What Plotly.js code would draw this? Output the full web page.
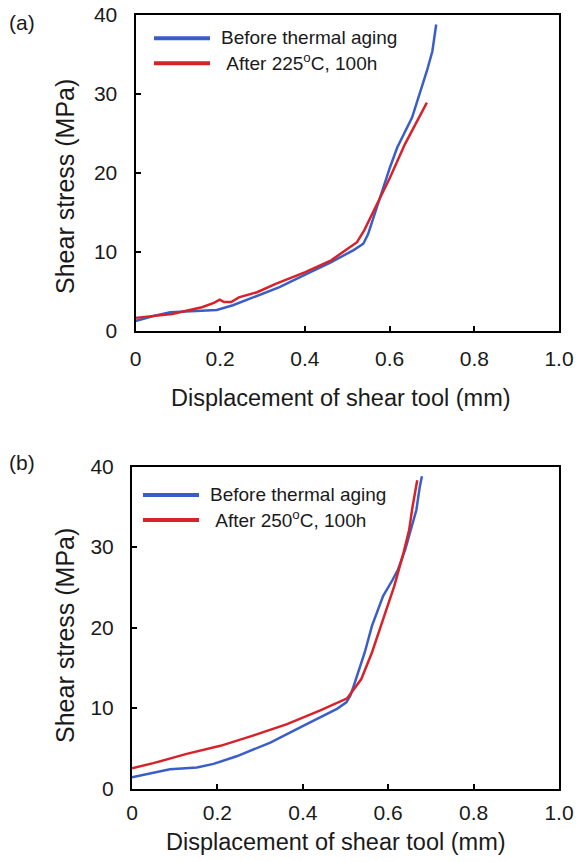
<!DOCTYPE html>
<html>
<head>
<meta charset="utf-8">
<script src="https://cdn.plot.ly/plotly-3.0.1.min.js"></script>
<style>html,body{margin:0;padding:0;background:#fff;}#chart{width:578px;height:862px;}</style>
</head>
<body>
<div id="chart"></div>
<script>
// ---- data ----
// (a) 225 °C aging
var xA_before = [0, 0.04, 0.082, 0.14, 0.192, 0.23, 0.279, 0.34, 0.397, 0.46, 0.515, 0.538, 0.549, 0.575, 0.601, 0.618, 0.653, 0.688, 0.701, 0.71];
var yA_before = [1.2, 1.8, 2.3, 2.5, 2.6, 3.2, 4.2, 5.5, 7.0, 8.6, 10.2, 11.0, 12.2, 16.5, 20.7, 23.2, 27.0, 32.9, 35.4, 38.8];
var xA_after = [0, 0.04, 0.087, 0.12, 0.157, 0.185, 0.199, 0.209, 0.226, 0.244, 0.287, 0.331, 0.401, 0.462, 0.523, 0.54, 0.566, 0.601, 0.636, 0.688];
var yA_after = [1.6, 1.8, 2.1, 2.5, 2.95, 3.5, 3.9, 3.6, 3.6, 4.2, 4.85, 5.9, 7.4, 8.9, 11.2, 12.7, 15.6, 19.4, 23.6, 28.9];
// (b) 250 °C aging
var xB_before = [0, 0.05, 0.089, 0.152, 0.191, 0.245, 0.324, 0.402, 0.48, 0.502, 0.511, 0.519, 0.545, 0.562, 0.588, 0.61, 0.623, 0.64, 0.653, 0.666, 0.674, 0.679];
var yB_before = [1.4, 1.97, 2.4, 2.6, 3.06, 4.0, 5.7, 7.8, 9.9, 10.7, 11.5, 12.7, 16.9, 20.2, 23.9, 25.9, 27.2, 29.7, 32.1, 34.6, 37.5, 38.8];
var xB_after = [0, 0.05, 0.128, 0.207, 0.285, 0.363, 0.441, 0.504, 0.537, 0.562, 0.588, 0.614, 0.636, 0.649, 0.657, 0.666, 0.668];
var yB_after = [2.5, 3.15, 4.3, 5.3, 6.6, 8.0, 9.7, 11.2, 13.6, 16.9, 21.0, 25.1, 29.3, 32.1, 35.0, 38.1, 38.3];

var xTickVals = [0, 0.2, 0.4, 0.6, 0.8, 1.0];
var xTickText = ['0', '0.2', '0.4', '0.6', '0.8', '1.0'];
var yTickVals = [0, 10, 20, 30, 40];
var yTickText = ['0', '10', '20', '30', '40'];

var nameBefore = 'Before thermal aging';
var nameAfterA = ' After 225<sup>o</sup>C, 100h';
var nameAfterB = ' After 250<sup>o</sup>C, 100h';
var xTitle = 'Displacement of shear tool (mm)';
var yTitle = 'Shear stress (MPa)';

var BLUE = '#3a5ec8';
var RED = '#d8222a';
var FONT = 'Arial, "Liberation Sans", sans-serif';
var TXT = '#1a1a1a';

var W = 578, H = 862;
function px(x) { return x / W; }
function py(y) { return 1 - y / H; }

var traces = [
  {x: xA_before, y: yA_before, xaxis: 'x', yaxis: 'y', mode: 'lines', name: nameBefore, line: {color: BLUE, width: 2.5}, showlegend: false},
  {x: xA_after, y: yA_after, xaxis: 'x', yaxis: 'y', mode: 'lines', name: nameAfterA, line: {color: RED, width: 2.5}, showlegend: false},
  {x: xB_before, y: yB_before, xaxis: 'x2', yaxis: 'y2', mode: 'lines', name: nameBefore, line: {color: BLUE, width: 2.5}, showlegend: false},
  {x: xB_after, y: yB_after, xaxis: 'x2', yaxis: 'y2', mode: 'lines', name: nameAfterB, line: {color: RED, width: 2.5}, showlegend: false}
];

function xax(domain, anchor, standoff) {
  return {domain: domain, anchor: anchor, range: [0, 1], tickmode: 'array', tickvals: xTickVals, ticktext: xTickText,
    showline: true, linecolor: '#000', linewidth: 2, mirror: true, ticks: 'inside', ticklen: 5, tickwidth: 2, tickcolor: '#000',
    showgrid: false, zeroline: false, ticklabelstandoff: standoff, tickfont: {family: FONT, size: 21, color: TXT}, fixedrange: true};
}
function yax(domain, anchor) {
  return {domain: domain, anchor: anchor, range: [0, 40], tickmode: 'array', tickvals: yTickVals, ticktext: yTickText,
    showline: true, linecolor: '#000', linewidth: 2, mirror: true, ticks: 'inside', ticklen: 5, tickwidth: 2, tickcolor: '#000',
    showgrid: false, zeroline: false, ticklabelstandoff: 12, tickfont: {family: FONT, size: 21, color: TXT}, fixedrange: true};
}

var layout = {
  width: W, height: H,
  margin: {l: 0, r: 0, t: 0, b: 0},
  paper_bgcolor: '#fff', plot_bgcolor: '#fff',
  showlegend: false,
  xaxis: xax([px(135.5), px(559)], 'y', 8),
  yaxis: yax([py(330.5), py(15)], 'x'),
  xaxis2: xax([px(132), px(559)], 'y2', 4),
  yaxis2: yax([py(788.5), py(466.5)], 'x2'),
  shapes: [
    {type: 'line', xref: 'paper', yref: 'paper', x0: px(154), x1: px(210), y0: py(38.3), y1: py(38.3), line: {color: BLUE, width: 4}},
    {type: 'line', xref: 'paper', yref: 'paper', x0: px(154), x1: px(210), y0: py(63.3), y1: py(63.3), line: {color: RED, width: 4}},
    {type: 'line', xref: 'paper', yref: 'paper', x0: px(143), x1: px(199), y0: py(495), y1: py(495), line: {color: BLUE, width: 4}},
    {type: 'line', xref: 'paper', yref: 'paper', x0: px(143), x1: px(199), y0: py(520), y1: py(520), line: {color: RED, width: 4}}
  ],
  annotations: [
    {text: '(a)', xref: 'paper', yref: 'paper', x: px(7), y: py(22.5), xanchor: 'left', yanchor: 'middle', showarrow: false, font: {family: FONT, size: 21, color: TXT}},
    {text: '(b)', xref: 'paper', yref: 'paper', x: px(7), y: py(462.5), xanchor: 'left', yanchor: 'middle', showarrow: false, font: {family: FONT, size: 21, color: TXT}},
    {text: nameBefore, xref: 'paper', yref: 'paper', x: px(219), y: py(37), xanchor: 'left', yanchor: 'middle', showarrow: false, font: {family: FONT, size: 19, color: TXT}},
    {text: nameAfterA, xref: 'paper', yref: 'paper', x: px(220), y: py(62), xanchor: 'left', yanchor: 'middle', showarrow: false, font: {family: FONT, size: 19, color: TXT}},
    {text: nameBefore, xref: 'paper', yref: 'paper', x: px(207.8), y: py(494), xanchor: 'left', yanchor: 'middle', showarrow: false, font: {family: FONT, size: 19, color: TXT}},
    {text: nameAfterB, xref: 'paper', yref: 'paper', x: px(209), y: py(519), xanchor: 'left', yanchor: 'middle', showarrow: false, font: {family: FONT, size: 19, color: TXT}},
    {text: xTitle, xref: 'paper', yref: 'paper', x: px(341), y: py(398), xanchor: 'center', yanchor: 'middle', showarrow: false, font: {family: FONT, size: 23.5, color: TXT}},
    {text: xTitle, xref: 'paper', yref: 'paper', x: px(336), y: py(842), xanchor: 'center', yanchor: 'middle', showarrow: false, font: {family: FONT, size: 23.5, color: TXT}},
    {text: yTitle, xref: 'paper', yref: 'paper', x: px(65), y: py(187), xanchor: 'center', yanchor: 'middle', textangle: -90, showarrow: false, font: {family: FONT, size: 25, color: TXT}},
    {text: yTitle, xref: 'paper', yref: 'paper', x: px(65), y: py(636), xanchor: 'center', yanchor: 'middle', textangle: -90, showarrow: false, font: {family: FONT, size: 25, color: TXT}}
  ]
};

Plotly.newPlot('chart', traces, layout, {displayModeBar: false, staticPlot: true});
</script>
</body>
</html>
